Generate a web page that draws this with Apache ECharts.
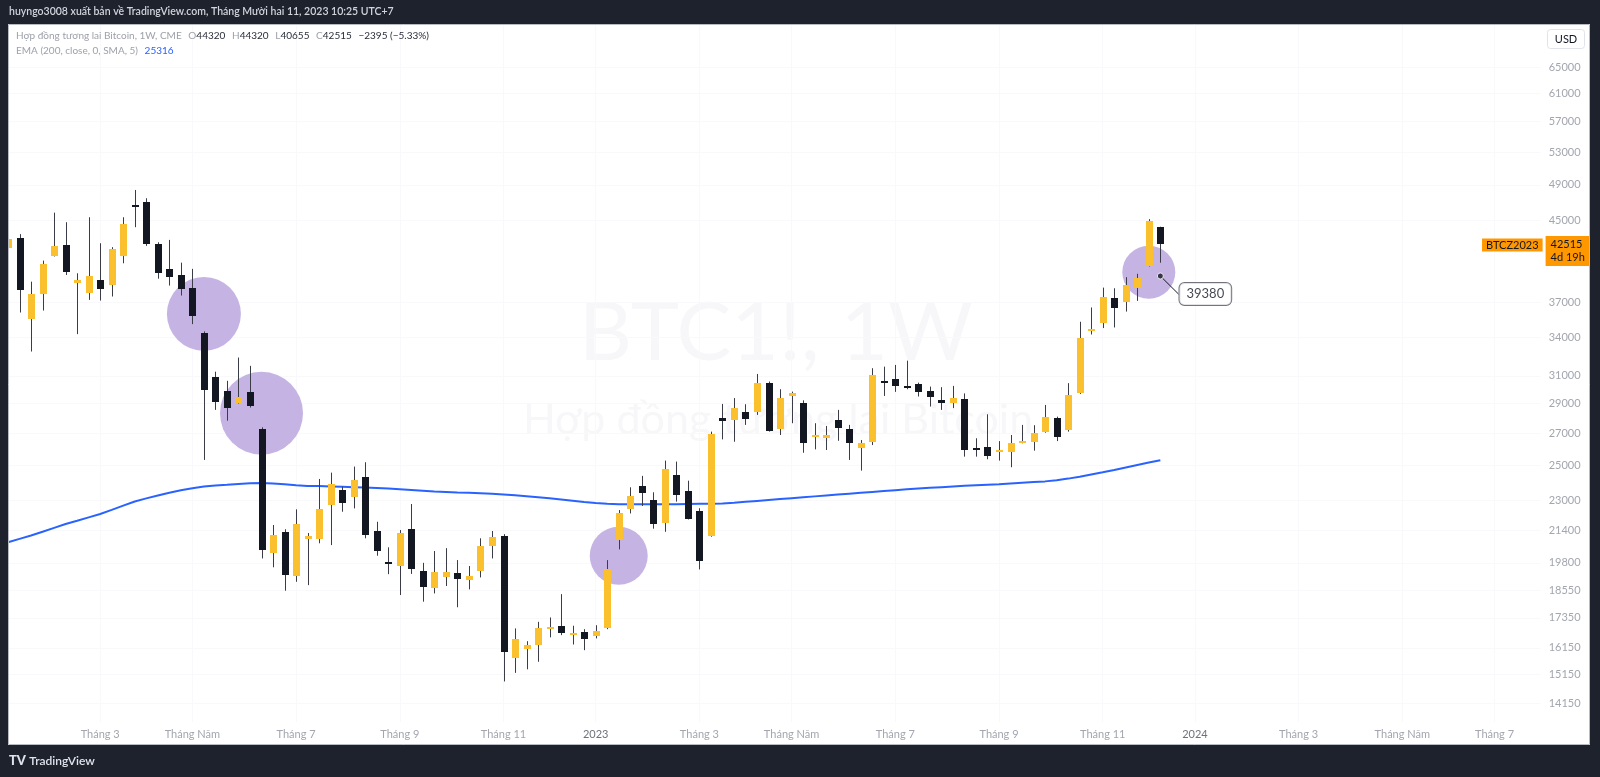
<!DOCTYPE html>
<html><head><meta charset="utf-8">
<script src="https://cdn.jsdelivr.net/npm/echarts@6.0.0/dist/echarts.min.js"></script>
<style>html,body{margin:0;padding:0;background:#1e222d}#c{width:1600px;height:777px}</style>
</head><body><div id="c"></div>
<script>
// weekly bars (Monday dates), incl. empty future bars
const dates = ['2022-01-10','2022-01-17','2022-01-24','2022-01-31','2022-02-07','2022-02-14','2022-02-21','2022-02-28','2022-03-07','2022-03-14','2022-03-21','2022-03-28','2022-04-04','2022-04-11','2022-04-18','2022-04-25','2022-05-02','2022-05-09','2022-05-16','2022-05-23','2022-05-30','2022-06-06','2022-06-13','2022-06-20','2022-06-27','2022-07-04','2022-07-11','2022-07-18','2022-07-25','2022-08-01','2022-08-08','2022-08-15','2022-08-22','2022-08-29','2022-09-05','2022-09-12','2022-09-19','2022-09-26','2022-10-03','2022-10-10','2022-10-17','2022-10-24','2022-10-31','2022-11-07','2022-11-14','2022-11-21','2022-11-28','2022-12-05','2022-12-12','2022-12-19','2022-12-26',
'2023-01-02','2023-01-09','2023-01-16','2023-01-23','2023-01-30','2023-02-06','2023-02-13','2023-02-20','2023-02-27','2023-03-06','2023-03-13','2023-03-20','2023-03-27','2023-04-03','2023-04-10','2023-04-17','2023-04-24','2023-05-01','2023-05-08','2023-05-15','2023-05-22','2023-05-29','2023-06-05','2023-06-12','2023-06-19','2023-06-26','2023-07-03','2023-07-10','2023-07-17','2023-07-24','2023-07-31','2023-08-07','2023-08-14','2023-08-21','2023-08-28','2023-09-04','2023-09-11','2023-09-18','2023-09-25','2023-10-02','2023-10-09','2023-10-16','2023-10-23','2023-10-30','2023-11-06','2023-11-13','2023-11-20','2023-11-27','2023-12-04','2023-12-11','2023-12-18','2023-12-25',
'2024-01-01','2024-01-08','2024-01-15','2024-01-22','2024-01-29','2024-02-05','2024-02-12','2024-02-19','2024-02-26','2024-03-04','2024-03-11','2024-03-18','2024-03-25','2024-04-01','2024-04-08','2024-04-15','2024-04-22','2024-04-29','2024-05-06','2024-05-13','2024-05-20','2024-05-27','2024-06-03','2024-06-10','2024-06-17','2024-06-24','2024-07-01','2024-07-08','2024-07-15','2024-07-22','2024-07-29'];

const opens = [42150,43180,35510,37700,41350,42390,38760,37790,39010,38570,
41350,46650,47070,42530,40060,39480,38270,34340,30950,29900,
29070,29830,27300,20290,21300,19180,20960,20960,22760,23580,
23210,24330,21360,19840,19660,21460,19430,18640,19120,19310,
19000,19400,20630,21110,15780,16090,16260,16930,17030,16640,
16760,16610,16930,20910,22520,23810,23020,21760,24420,23510,
22420,21130,28050,27890,28450,28450,30500,27320,29540,29070,
26780,26730,27870,27280,26100,26440,30630,30780,30230,30380,
29900,29260,29030,29330,26070,26120,25890,25830,26500,26470,
27120,28000,27230,29780,34660,35180,37400,36990,38240,40370,
44320];
const highs = [43400,43540,38850,40860,45840,44800,39640,45340,42600,42200,
45340,48400,47450,42700,42940,40660,40060,34480,31310,30630,
32390,31750,27400,21680,21460,22510,21270,24210,24580,23770,
24940,25200,21850,20550,21420,22800,19800,20370,20510,19930,
19650,21000,21370,21210,16920,16410,17190,17370,18370,17030,
16890,17050,19930,22470,23730,24390,23450,25300,25240,24110,
22570,27120,28980,29390,28960,31140,30580,30020,29850,29230,
27670,27490,28570,27560,26580,31570,31690,31820,32150,30500,
30210,30170,30260,29720,26690,28270,26510,26900,27560,27540,
28910,28110,30460,35290,36520,38300,38240,39270,39590,45130,
44320];
const lows = [41720,36080,32860,36250,41270,39480,34260,37190,37130,37490,
40600,44270,42330,39130,38490,37580,35090,25340,28570,27840,
29010,28730,20010,19590,18520,18920,18770,20750,20660,22380,
22560,21000,20140,19270,18330,19280,18040,18400,18730,17800,
18580,19120,20010,14900,15210,15340,15620,16560,16650,16280,
16060,16520,16890,20450,22290,22690,21490,21330,22930,21970,
19490,21080,26620,26470,27560,28230,27120,26900,27670,25780,
25990,25950,26530,25340,24700,26260,29540,29830,30020,29500,
28800,28570,28690,25540,25540,25380,25300,24900,26370,25910,
27050,26510,27120,29680,34230,34760,34810,36160,37100,40290,
40655];
const closes = [43040,38090,37730,40570,42300,39800,39010,39390,38210,41990,
44620,46480,42560,39710,39320,38180,35790,29970,29140,28730,
29450,28850,20420,21170,19230,21730,21130,22540,23910,22870,
24150,21180,20360,19780,21280,19510,18700,19370,19370,19050,
19180,20620,21070,16000,16480,16260,16930,16980,16720,16740,
16480,16820,19490,22330,23240,23430,21710,24780,23280,22010,
19900,26950,27840,28690,27960,30460,27180,29420,29730,26410,
26870,26870,27340,26410,26410,31070,30580,30270,30160,29810,
29500,29030,29420,25950,26010,25600,25950,26370,26540,27050,
28070,26780,29610,33930,34690,37490,36460,38560,39170,44910,
42515];
const ema = [20800,20970,21140,21330,21530,21730,21900,22080,22260,22480,
22710,22940,23110,23270,23420,23560,23680,23770,23830,23870,
23920,23960,23970,23950,23900,23850,23810,23800,23780,23760,
23740,23720,23690,23660,23620,23580,23540,23500,23470,23440,
23420,23400,23370,23330,23280,23230,23170,23110,23050,22980,
22910,22850,22810,22790,22780,22780,22780,22790,22790,22800,
22810,22820,22830,22870,22920,22970,23020,23070,23120,23170,
23220,23270,23320,23370,23420,23470,23520,23570,23620,23660,
23700,23740,23780,23820,23850,23880,23910,23950,23990,24030,
24070,24140,24230,24340,24470,24600,24740,24890,25040,25180,
25316];

const priceTicks = [65000,61000,57000,53000,49000,45000,37000,34000,31000,29000,27000,25000,23000,21400,19800,18550,17350,16150,15150,14150];
const monthNames = {1:null,3:'Tháng 3',5:'Tháng Năm',7:'Tháng 7',9:'Tháng 9',11:'Tháng 11'};

// highlighted zones (drawn circles)
const circleBars = [17, 22, 53, 99];
const circlePrices = [35960, 28340, 20140, 39740];
const circleDiam = [74, 83, 58, 53];

// price note
const noteBar = 100;
const notePrice = 39380;

const lastPrice = 42515;
const contract = 'BTCZ2023';
const countdown = '4d 19h';
const headerText = 'huyngo3008 xuất bản về TradingView.com, Tháng Mười hai 11, 2023 10:25 UTC+7';

const UP = '#fbc02d', DOWN = '#131722', WICK = '#3a3d47';
const candleData = opens.map((o, i) => [i, o, closes[i], lows[i], highs[i]]);

function isLabelBar(idx) {
  const d = dates[idx];
  const m = +d.slice(5, 7), day = +d.slice(8, 10);
  return day <= 7 && (m % 2 === 1);
}

function renderCandle(params, api) {
  const i = api.value(0), o = api.value(1), c = api.value(2), l = api.value(3), h = api.value(4);
  const po = api.coord([i, o]), pc = api.coord([i, c]), pl = api.coord([i, l]), ph = api.coord([i, h]);
  const w = Math.max(3, Math.round(api.size([1, o])[0] * 0.62));
  const xc = Math.round(po[0]);
  const top = Math.round(Math.min(po[1], pc[1]));
  const bot = Math.round(Math.max(po[1], pc[1]));
  const hh = Math.max(2, bot - top);
  const up = c >= o;
  return {
    type: 'group',
    children: [
      {type: 'line', shape: {x1: xc + 0.5, y1: ph[1], x2: xc + 0.5, y2: pl[1]}, style: {stroke: WICK, lineWidth: 1}},
      {type: 'rect', shape: {x: xc - Math.floor(w / 2) + (w % 2 ? 0 : 1), y: top, width: w, height: hh}, style: {fill: up ? UP : DOWN}}
    ]
  };
}

const chart = echarts.init(document.getElementById('c'), null, {renderer: 'canvas'});
const F = 'Lato, "Noto Sans", sans-serif';

const option = {
  animation: false,
  backgroundColor: '#ffffff',
  grid: {left: 8, right: 59.4, top: 24, bottom: 55, containLabel: false, outerBoundsMode: 'none'},
  xAxis: {
    type: 'category', data: dates, boundaryGap: false,
    axisLine: {show: false}, axisTick: {show: false},
    axisLabel: {
      interval: (idx) => isLabelBar(idx), margin: 7, fontSize: 11, fontFamily: F, color: '#a3a6af',
      formatter: (v) => { const m = +v.slice(5, 7); return m === 1 ? '{y|' + v.slice(0, 4) + '}' : monthNames[m]; },
      rich: {y: {color: '#6f727c', fontSize: 11, fontFamily: F}}
    },
    splitLine: {show: true, interval: (idx) => isLabelBar(idx), lineStyle: {color: '#f9f9fb', width: 1}}
  },
  yAxis: {
    type: 'log', position: 'right', min: 13520, max: 72050,
    axisLine: {show: false},
    axisTick: {show: false, customValues: priceTicks},
    axisLabel: {customValues: priceTicks, margin: 40, align: 'right', fontSize: 11, fontFamily: F, color: '#a3a6af', formatter: (v) => String(Math.round(v))},
    splitLine: {show: true, lineStyle: {color: '#f9f9fb', width: 1}}
  },
  graphic: {elements: [
    {type: 'text', z: -5, style: {text: 'BTC1!, 1W', x: 776, y: 334, align: 'center', verticalAlign: 'middle', font: '82px ' + F, fill: '#f7f7f9'}},
    {type: 'text', z: -5, style: {text: 'Hợp đồng tương lai Bitcoin', x: 778, y: 420, align: 'center', verticalAlign: 'middle', font: '43px ' + F, fill: '#f7f7f9'}},
    {type: 'rect', z: 100, shape: {x: 0, y: 0, width: 1600, height: 24}, style: {fill: '#1e222d'}},
    {type: 'rect', z: 100, shape: {x: 0, y: 745, width: 1600, height: 32}, style: {fill: '#1e222d'}},
    {type: 'rect', z: 100, shape: {x: 0, y: 0, width: 8, height: 777}, style: {fill: '#1e222d'}},
    {type: 'rect', z: 100, shape: {x: 1590, y: 0, width: 10, height: 777}, style: {fill: '#1e222d'}},
    {type: 'rect', z: 101, shape: {x: 8.5, y: 24.5, width: 1581, height: 720}, style: {fill: null, stroke: '#b8bbc4', lineWidth: 1}},
    {type: 'text', z: 102, style: {text: headerText, x: 9, y: 12, verticalAlign: 'middle', font: '600 10.5px ' + F, fill: '#d1d4dc'}},
    {type: 'text', z: 102, style: {
      x: 16, y: 36, verticalAlign: 'middle',
      text: '{g|Hợp đồng tương lai Bitcoin, 1W, CME}  {g|O}{v|44320}  {g|H}{v|44320}  {g|L}{v|40655}  {g|C}{v|42515}  {v|−2395 (−5.33%)}',
      rich: {g: {fill: '#9ea1aa', font: '10px ' + F}, v: {fill: '#2a2e39', font: '10px ' + F}}
    }},
    {type: 'text', z: 102, style: {
      x: 16, y: 51, verticalAlign: 'middle',
      text: '{g|EMA (200, close, 0, SMA, 5)}  {b|25316}',
      rich: {g: {fill: '#9ea1aa', font: '10px ' + F}, b: {fill: '#2962ff', font: '10px ' + F}}
    }},
    {type: 'rect', z: 102, shape: {x: 1547.5, y: 29.5, width: 37, height: 19, r: 3}, style: {fill: '#ffffff', stroke: '#e0e3eb', lineWidth: 1}},
    {type: 'text', z: 103, style: {text: 'USD', x: 1566, y: 39, align: 'center', verticalAlign: 'middle', font: '11px ' + F, fill: '#131722'}},
    {type: 'text', z: 102, style: {
      x: 9, y: 761, verticalAlign: 'middle',
      text: '{l|TV} {n|TradingView}',
      rich: {l: {fill: '#e0e3eb', font: '900 13px ' + F}, n: {fill: '#e0e3eb', font: '600 12px ' + F}}
    }}
  ]},
  series: [
    {
      type: 'scatter', z: 1, silent: true,
      data: circleBars.map((b, k) => ({value: [b, circlePrices[k]], symbolSize: circleDiam[k]})),
      itemStyle: {color: '#c5b4e3', opacity: 1}
    },
    {
      type: 'line', z: 2, silent: true, data: ema, showSymbol: false, symbol: 'none',
      lineStyle: {color: '#2962ff', width: 2}
    },
    {
      type: 'custom', z: 3, silent: true, clip: true,
      renderItem: renderCandle,
      encode: {x: 0, y: [1, 2, 3, 4]},
      data: candleData,
      markPoint: {
        silent: true, symbol: 'circle', symbolSize: 0,
        data: [
          {coord: [dates.length - 1, lastPrice], value: lastPrice,
            label: {show: true, position: 'right', distance: 5, offset: [0, 7],
              formatter: () => '{a|' + lastPrice + '}\n{b|' + countdown + '}',
              backgroundColor: '#ff9800', padding: [2, 5, 2, 5],
              rich: {a: {color: '#131722', fontSize: 11, fontFamily: F, lineHeight: 13}, b: {color: '#131722', fontSize: 11, fontFamily: F, lineHeight: 13}}}},
          {coord: [dates.length - 1, lastPrice], value: lastPrice,
            label: {show: true, position: 'left', distance: -2, offset: [0, 1],
              formatter: () => contract, color: '#131722', fontSize: 11, fontFamily: F,
              backgroundColor: '#ff9800', padding: [1, 4, 1, 4]}}
        ]
      }
    },
    {
      type: 'scatter', z: 5, silent: true,
      data: [[noteBar, notePrice]],
      symbolSize: 6,
      itemStyle: {color: '#131722', borderColor: '#ffffff', borderWidth: 1},
      label: {
        show: true, position: 'inside', formatter: (p) => String(p.value[1]),
        color: '#131722', fontSize: 13, fontFamily: F,
        backgroundColor: '#ffffff', borderColor: '#50535e', borderWidth: 1, borderRadius: 5,
        padding: [5, 7, 4, 7]
      },
      labelLayout: {dx: 45, dy: 18},
      labelLine: {show: true, lineStyle: {color: '#131722', width: 1}}
    }
  ]
};
chart.setOption(option);
</script></body></html>
